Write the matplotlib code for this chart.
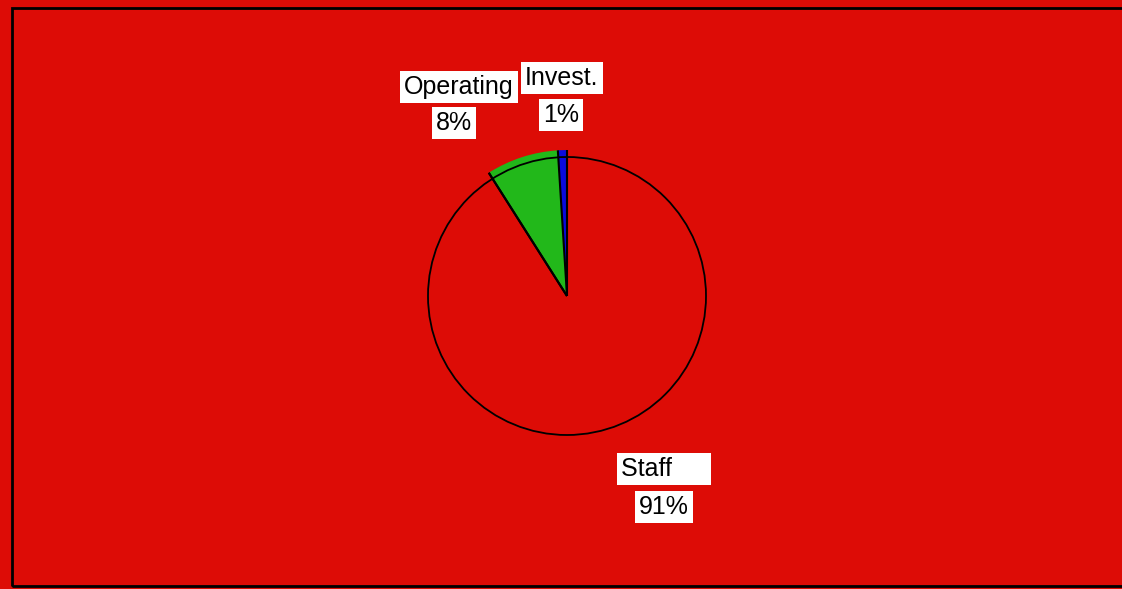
import numpy as np
import matplotlib.pyplot as plt
from matplotlib.patches import Circle, Rectangle

# budget split
names = ['Invest.', 'Operating', 'Staff']
shares = [1, 8, 91]
colors = ['#0A0ADC', '#22B81A', '#DD0C06']
bg = '#DD0C06'

W, H = 1122, 589
fig = plt.figure(figsize=(W / 100, H / 100), dpi=100, facecolor=bg)
ax = fig.add_axes([0, 0, 1, 1])
ax.set_facecolor(bg)

cx, cy, r = 567, H - 296, 139
wedges, _ = ax.pie(shares, colors=colors, startangle=90, counterclock=True,
                   center=(cx, cy), radius=r,
                   wedgeprops=dict(edgecolor='none', linewidth=0))
# small slices stick out a bit past the rim
for w, n in zip(wedges, names):
    if n != 'Staff':
        w.set_radius(r * 1.05)
    w.set_zorder(1)

# radial edges of the small slices
angles = 90 + 360 * np.cumsum([0] + shares[:-1]) / sum(shares)
angles = list(angles) + [90 + 360 * sum(shares[:2]) / sum(shares)]
for a in angles:
    t = np.deg2rad(a)
    ax.plot([cx, cx + 1.05 * r * np.cos(t)], [cy, cy + 1.05 * r * np.sin(t)],
            color='black', lw=1.5, zorder=2, solid_capstyle='butt')
ax.add_patch(Circle((cx, cy), r, fill=False, edgecolor='black', lw=1.3, zorder=3))

ax.set_xlim(0, W)
ax.set_ylim(0, H)
ax.set_aspect('auto')
ax.axis('off')

# frame
ax.add_patch(Rectangle((12, H - 586), 1130, 578, fill=False, edgecolor='black',
                       lw=2, clip_on=False, zorder=4))

box = dict(facecolor='white', edgecolor='none', pad=3)
fs = 18
lab_pos = {'Operating': (459, 87, 454, 123),
           'Invest.': (562, 78, 561, 115),
           'Staff': (621, 469, 664, 507)}
for n, s in zip(names, shares):
    x1, y1, x2, y2 = lab_pos[n]
    if n == 'Staff':
        ax.text(x1, H - y1, n + '     ', ha='left', va='center', fontsize=fs,
                family='Liberation Sans', bbox=box, zorder=5)
    else:
        ax.text(x1, H - y1, n, ha='center', va='center', fontsize=fs,
                family='Liberation Sans', bbox=box, zorder=5)
    ax.text(x2, H - y2, f'{s}%', ha='center', va='center', fontsize=fs,
            family='Liberation Sans', bbox=box, zorder=5)

fig.savefig('out.png', dpi=100, facecolor=bg)
